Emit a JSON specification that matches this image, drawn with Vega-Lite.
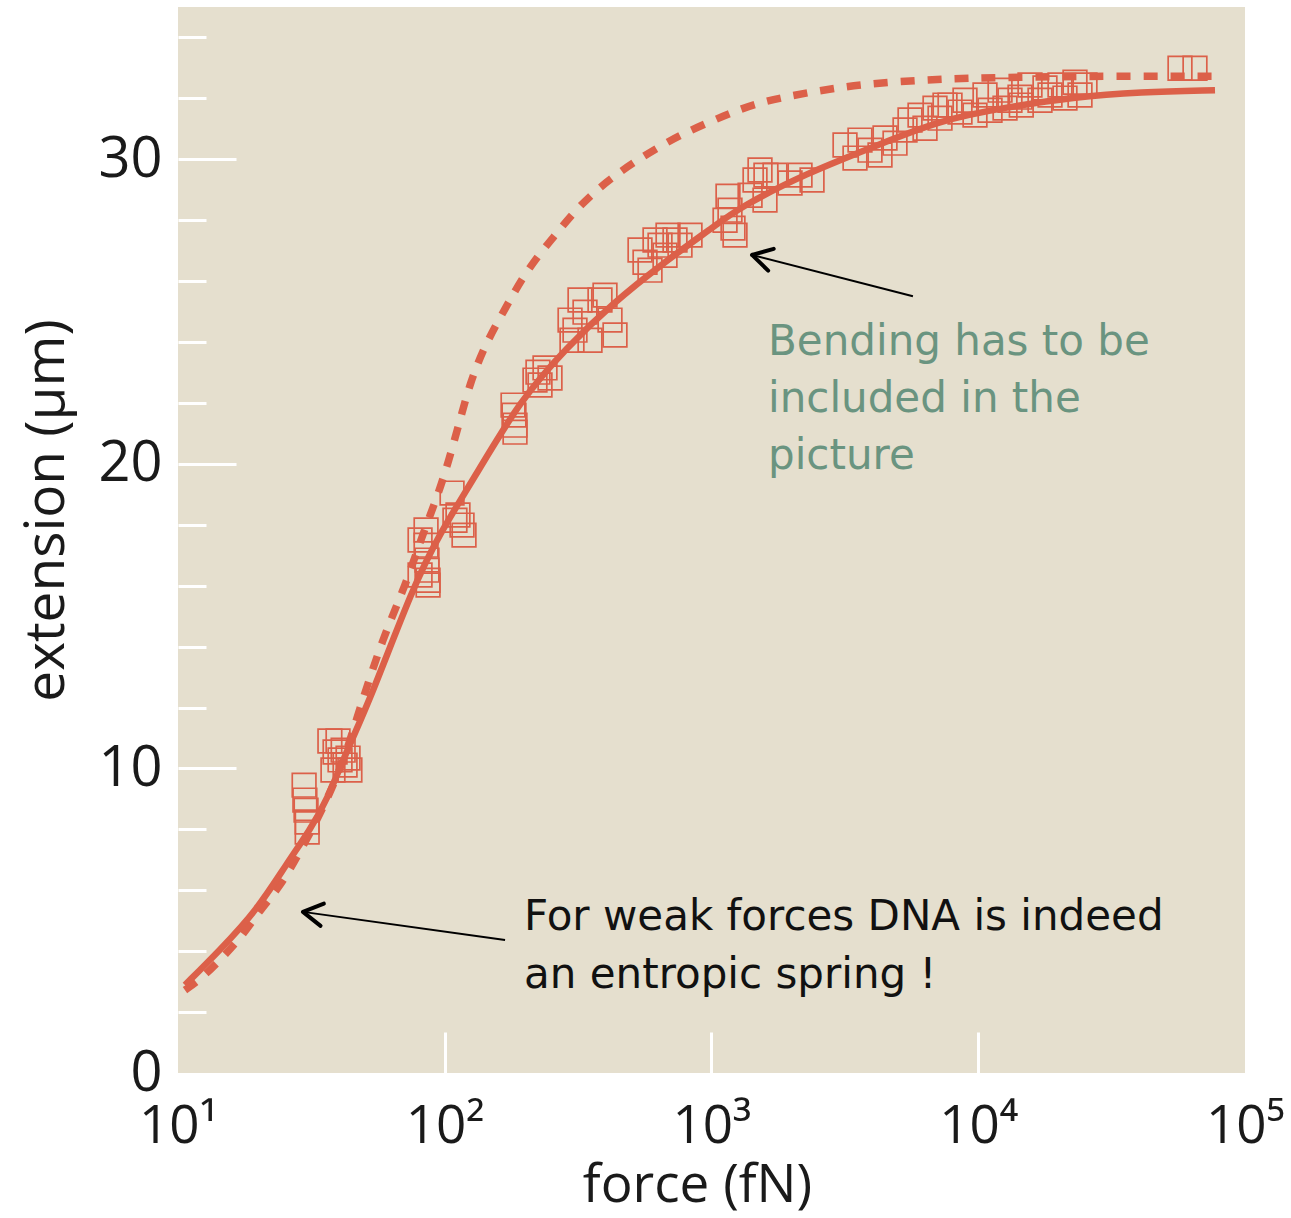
{
  "$schema": "https://vega.github.io/schema/vega-lite/v6.json",
  "width": 1067,
  "height": 1066,
  "autosize": {"type": "none"},
  "padding": {"left": 178, "top": 7, "right": 46, "bottom": 145},
  "background": "white",
  "config": {
    "view": {"fill": "#e5dfce", "stroke": null},
    "axis": {"domain": false, "grid": false}
  },
  "datasets": {
    "points": [
      {"force": 29.7, "ext": 9.45}, {"force": 29.9, "ext": 8.96}, {"force": 30.2, "ext": 8.63}, {"force": 30.5, "ext": 8.24}, {"force": 30.5, "ext": 7.91},
      {"force": 37.1, "ext": 10.90}, {"force": 39.8, "ext": 10.90}, {"force": 38.8, "ext": 10.54}, {"force": 40.5, "ext": 10.28}, {"force": 42.3, "ext": 10.11}, {"force": 44.1, "ext": 9.95}, {"force": 38.1, "ext": 9.95}, {"force": 41.6, "ext": 10.60}, {"force": 43.4, "ext": 10.34},
      {"force": 85.1, "ext": 17.83}, {"force": 85.1, "ext": 17.33}, {"force": 85.8, "ext": 16.84}, {"force": 85.8, "ext": 16.51}, {"force": 86.6, "ext": 16.18}, {"force": 86.6, "ext": 16.02}, {"force": 80.8, "ext": 17.50}, {"force": 80.8, "ext": 16.35},
      {"force": 106.5, "ext": 19.04}, {"force": 112.1, "ext": 18.32}, {"force": 116.1, "ext": 17.99}, {"force": 118.1, "ext": 17.66}, {"force": 109.2, "ext": 18.15},
      {"force": 180.3, "ext": 21.93}, {"force": 181.8, "ext": 21.60}, {"force": 183.4, "ext": 21.27}, {"force": 183.4, "ext": 21.04},
      {"force": 223.6, "ext": 23.01}, {"force": 237.6, "ext": 23.15}, {"force": 227.6, "ext": 22.59}, {"force": 248.1, "ext": 22.82}, {"force": 217.9, "ext": 22.75},
      {"force": 294.9, "ext": 24.72}, {"force": 307.8, "ext": 24.39}, {"force": 299.9, "ext": 24.06}, {"force": 335.6, "ext": 24.98}, {"force": 381.9, "ext": 25.38}, {"force": 398.8, "ext": 25.54}, {"force": 416.4, "ext": 24.72}, {"force": 434.8, "ext": 24.23}, {"force": 350.4, "ext": 24.06}, {"force": 321.4, "ext": 25.38},
      {"force": 539.5, "ext": 27.02}, {"force": 563.3, "ext": 26.62}, {"force": 588.2, "ext": 26.36}, {"force": 641.2, "ext": 27.18}, {"force": 687.1, "ext": 27.51}, {"force": 729.8, "ext": 27.35}, {"force": 762.0, "ext": 27.18}, {"force": 830.7, "ext": 27.51}, {"force": 669.5, "ext": 26.85}, {"force": 614.1, "ext": 27.35},
      {"force": 1153, "ext": 28.79}, {"force": 1173, "ext": 28.33}, {"force": 1204, "ext": 27.74}, {"force": 1225, "ext": 27.51}, {"force": 1124, "ext": 28.00},
      {"force": 1520, "ext": 29.65}, {"force": 1730, "ext": 29.48}, {"force": 1970, "ext": 29.22}, {"force": 2147, "ext": 29.48}, {"force": 2382, "ext": 29.32}, {"force": 1395, "ext": 28.82}, {"force": 1587, "ext": 28.66}, {"force": 1456, "ext": 29.32}, {"force": 1600, "ext": 29.48},
      {"force": 3166, "ext": 30.47}, {"force": 3603, "ext": 30.63}, {"force": 3929, "ext": 30.30}, {"force": 4472, "ext": 30.70}, {"force": 4283, "ext": 30.14}, {"force": 4875, "ext": 30.53}, {"force": 3451, "ext": 30.04},
      {"force": 5549, "ext": 31.29}, {"force": 6049, "ext": 31.45}, {"force": 6885, "ext": 31.68}, {"force": 7506, "ext": 31.78}, {"force": 7189, "ext": 31.35}, {"force": 6316, "ext": 31.02}, {"force": 5315, "ext": 30.96},
      {"force": 7838, "ext": 31.78}, {"force": 8919, "ext": 31.94}, {"force": 10600, "ext": 32.11}, {"force": 12070, "ext": 32.27}, {"force": 13150, "ext": 31.94}, {"force": 11070, "ext": 31.61}, {"force": 9723, "ext": 31.45}, {"force": 14340, "ext": 32.04}, {"force": 12600, "ext": 31.68}, {"force": 8543, "ext": 31.55},
      {"force": 15630, "ext": 32.44}, {"force": 17790, "ext": 32.34}, {"force": 20250, "ext": 32.44}, {"force": 23050, "ext": 32.53}, {"force": 25130, "ext": 32.44}, {"force": 18580, "ext": 32.11}, {"force": 21140, "ext": 32.01}, {"force": 17040, "ext": 31.94}, {"force": 14500, "ext": 31.78}, {"force": 24070, "ext": 32.11},
      {"force": 57060, "ext": 32.99}, {"force": 64940, "ext": 32.99}
    ],
    "wlc": [
      {"force": 10.62, "ext": 2.89}, {"force": 14.37, "ext": 4.04}, {"force": 19.78, "ext": 5.35}, {"force": 25.62, "ext": 6.89}, {"force": 31.25, "ext": 7.98}, {"force": 36.19, "ext": 8.96}, {"force": 43.01, "ext": 10.60}, {"force": 52.46, "ext": 12.25}, {"force": 76.03, "ext": 15.96}, {"force": 95.98, "ext": 17.73}, {"force": 127.6, "ext": 19.47}, {"force": 191.4, "ext": 22.09}, {"force": 287.2, "ext": 23.83}, {"force": 427.3, "ext": 25.28}, {"force": 657.9, "ext": 26.59}, {"force": 1013, "ext": 27.77}, {"force": 1279, "ext": 28.43}, {"force": 2280, "ext": 29.55}, {"force": 4032, "ext": 30.40}, {"force": 7189, "ext": 31.29}, {"force": 12820, "ext": 31.71}, {"force": 22660, "ext": 32.04}, {"force": 40420, "ext": 32.21}, {"force": 77190, "ext": 32.27}
    ],
    "fjc": [
      {"force": 10.62, "ext": 2.72}, {"force": 12.41, "ext": 3.15}, {"force": 14.75, "ext": 3.81}, {"force": 17.53, "ext": 4.53}, {"force": 20.29, "ext": 5.35}, {"force": 24.12, "ext": 6.11}, {"force": 28.67, "ext": 7.26}, {"force": 35.57, "ext": 8.80}, {"force": 42.28, "ext": 10.37}, {"force": 47.30, "ext": 11.79}, {"force": 58.70, "ext": 14.31}, {"force": 70.96, "ext": 15.96}, {"force": 82.88, "ext": 17.73}, {"force": 97.65, "ext": 19.30}, {"force": 114.1, "ext": 21.44}, {"force": 124.4, "ext": 22.65}, {"force": 139.1, "ext": 23.74}, {"force": 157.0, "ext": 24.62}, {"force": 175.6, "ext": 25.38}, {"force": 196.5, "ext": 26.13}, {"force": 227.6, "ext": 26.92}, {"force": 263.5, "ext": 27.58}, {"force": 302.6, "ext": 28.23}, {"force": 359.6, "ext": 28.89}, {"force": 427.3, "ext": 29.42}, {"force": 507.8, "ext": 29.88}, {"force": 624.9, "ext": 30.37}, {"force": 762.0, "ext": 30.79}, {"force": 961.9, "ext": 31.19}, {"force": 1204, "ext": 31.55}, {"force": 1520, "ext": 31.88}, {"force": 2340, "ext": 32.21}, {"force": 3698, "ext": 32.47}, {"force": 6049, "ext": 32.60}, {"force": 9557, "ext": 32.67}, {"force": 15630, "ext": 32.70}, {"force": 31180, "ext": 32.73}, {"force": 77190, "ext": 32.73}
    ],
    "arrows": [
      {"id": "bend", "force": 5690, "ext": 25.5, "force2": 1419, "ext2": 26.86},
      {"id": "weak", "force": 168.3, "ext": 4.37, "force2": 29.4, "ext2": 5.29}
    ],
    "notes": [
      {"id": "bend", "force": 1629, "ext": 23.57, "text": "Bending has to be\nincluded in the\npicture"},
      {"id": "weak", "force": 198.2, "ext": 4.70, "text": "For weak forces DNA is indeed\nan entropic spring !"}
    ]
  },
  "layer": [
    {
      "data": {"name": "points"},
      "mark": {"type": "point", "shape": "square", "filled": false, "size": 560, "stroke": "#dc6049", "strokeWidth": 1.7, "opacity": 1},
      "encoding": {
        "x": {
          "field": "force", "type": "quantitative",
          "scale": {"type": "log", "domain": [10, 100000], "nice": false},
          "axis": {
            "title": "force (fN)",
            "values": [10, 100, 1000, 10000, 100000],
            "labelExpr": "'10' + ['¹','²','³','⁴','⁵'][round(log(datum.value)/LN10) - 1]",
            "tickSize": -41, "tickWidth": 3, "tickColor": "white",
            "tickOpacity": {"condition": {"test": "datum.value === 10 || datum.value === 100000", "value": 0}, "value": 1},
            "labelFont": "Open Sans", "labelFontSize": 53, "labelColor": "#1a1a1a",
            "labelBaseline": "alphabetic", "labelPadding": 110,
            "labelFlush": false, "labelOverlap": false, "labelBound": false,
            "titleFont": "Open Sans", "titleFontSize": 53, "titleFontWeight": "normal", "titleColor": "#1a1a1a",
            "titleBaseline": "alphabetic", "titleAlign": "center", "titleX": 519, "titleY": 128
          }
        },
        "y": {
          "field": "ext", "type": "quantitative",
          "scale": {"domain": [0, 35], "nice": false},
          "axis": {
            "title": "extension (μm)",
            "values": [0, 2, 4, 6, 8, 10, 12, 14, 16, 18, 20, 22, 24, 26, 28, 30, 32, 34],
            "labelExpr": "datum.value % 10 === 0 ? datum.label : ''",
            "tickSize": {"condition": {"test": "datum.value % 10 === 0", "value": -58}, "value": -28},
            "tickOpacity": {"condition": {"test": "datum.value === 0", "value": 0}, "value": 1},
            "tickWidth": 3, "tickColor": "white",
            "labelFont": "Open Sans", "labelFontSize": 56, "labelColor": "#1a1a1a",
            "labelPadding": 74, "labelFlush": false, "labelOverlap": false, "labelBound": false,
            "titleFont": "Open Sans", "titleFontSize": 55, "titleFontWeight": "normal", "titleColor": "#1a1a1a",
            "titleBaseline": "alphabetic", "titleAlign": "center", "titleAngle": -90, "titleX": -115, "titleY": 503
          }
        }
      }
    },
    {
      "data": {"name": "fjc"},
      "mark": {"type": "line", "color": "#dc6049", "strokeWidth": 7.5, "strokeDash": [14, 13], "interpolate": "basis"},
      "encoding": {
        "x": {"field": "force", "type": "quantitative", "title": "force (fN)"},
        "y": {"field": "ext", "type": "quantitative", "title": "extension (μm)"}
      }
    },
    {
      "data": {"name": "wlc"},
      "mark": {"type": "line", "color": "#dc6049", "strokeWidth": 6.5, "interpolate": "basis"},
      "encoding": {
        "x": {"field": "force", "type": "quantitative", "title": "force (fN)"},
        "y": {"field": "ext", "type": "quantitative", "title": "extension (μm)"}
      }
    },
    {
      "data": {"name": "arrows"},
      "mark": {"type": "rule", "color": "black", "strokeWidth": 2},
      "encoding": {
        "x": {"field": "force", "type": "quantitative", "title": "force (fN)"},
        "y": {"field": "ext", "type": "quantitative", "title": "extension (μm)"},
        "x2": {"field": "force2"},
        "y2": {"field": "ext2"}
      }
    },
    {
      "data": {"name": "arrows"},
      "transform": [{"filter": "datum.id === 'bend'"}],
      "mark": {"type": "point", "shape": "M0,0 L2,-1.15 M0,0 L2,1.15", "filled": false, "size": 380, "stroke": "black", "strokeWidth": 4, "strokeCap": "round", "strokeJoin": "round", "opacity": 1, "angle": 14.3},
      "encoding": {
        "x": {"field": "force2", "type": "quantitative", "title": "force (fN)"},
        "y": {"field": "ext2", "type": "quantitative", "title": "extension (μm)"}
      }
    },
    {
      "data": {"name": "arrows"},
      "transform": [{"filter": "datum.id === 'weak'"}],
      "mark": {"type": "point", "shape": "M0,0 L2,-1.15 M0,0 L2,1.15", "filled": false, "size": 380, "stroke": "black", "strokeWidth": 4, "strokeCap": "round", "strokeJoin": "round", "opacity": 1, "angle": 8.5},
      "encoding": {
        "x": {"field": "force2", "type": "quantitative", "title": "force (fN)"},
        "y": {"field": "ext2", "type": "quantitative", "title": "extension (μm)"}
      }
    },
    {
      "data": {"name": "notes"},
      "transform": [{"filter": "datum.id === 'bend'"}],
      "mark": {"type": "text", "align": "left", "baseline": "alphabetic", "font": "DejaVu Sans", "fontSize": 42, "lineHeight": 57, "lineBreak": "\n", "color": "#6a9480"},
      "encoding": {
        "x": {"field": "force", "type": "quantitative", "title": "force (fN)"},
        "y": {"field": "ext", "type": "quantitative", "title": "extension (μm)"},
        "text": {"field": "text"}
      }
    },
    {
      "data": {"name": "notes"},
      "transform": [{"filter": "datum.id === 'weak'"}],
      "mark": {"type": "text", "align": "left", "baseline": "alphabetic", "font": "DejaVu Sans", "fontSize": 42, "lineHeight": 58, "lineBreak": "\n", "color": "#111111"},
      "encoding": {
        "x": {"field": "force", "type": "quantitative", "title": "force (fN)"},
        "y": {"field": "ext", "type": "quantitative", "title": "extension (μm)"},
        "text": {"field": "text"}
      }
    }
  ]
}
